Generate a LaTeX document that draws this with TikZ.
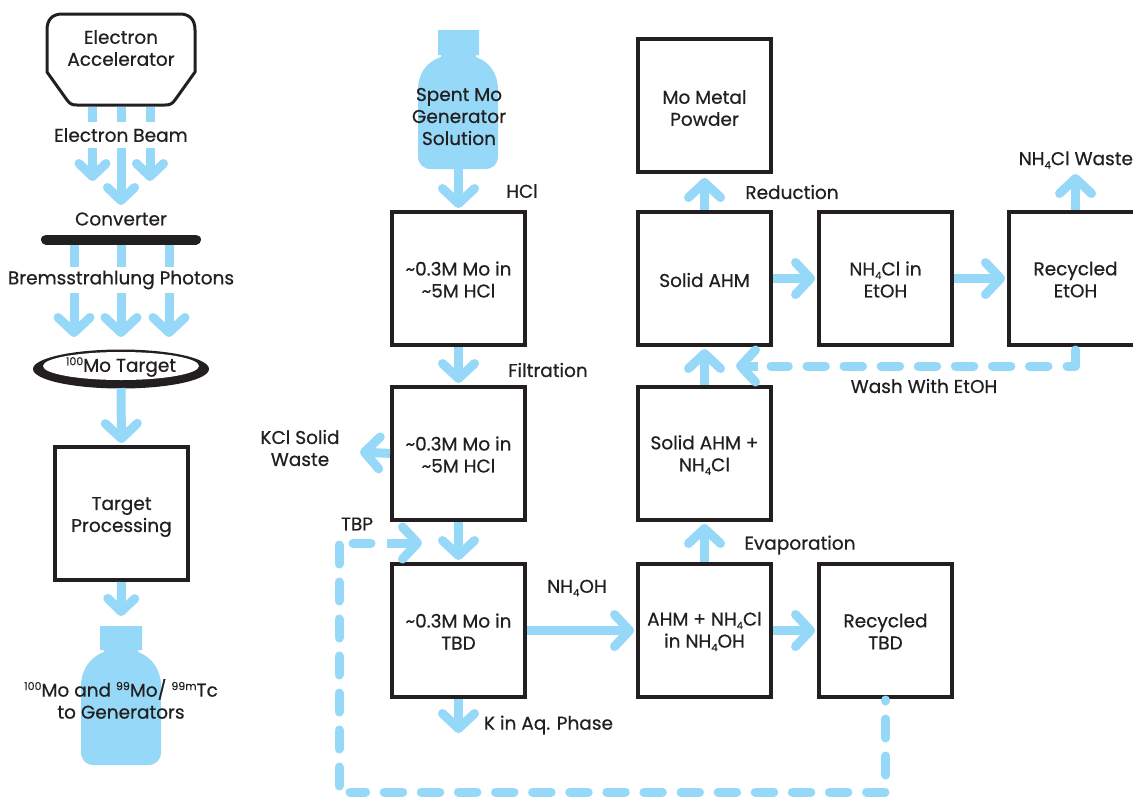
\documentclass[tikz,border=0pt]{standalone}
\usepackage{fontspec}
\setmainfont{Poppins}[RawFeature={embolden=0.6}]
\usetikzlibrary{arrows.meta}
\definecolor{flowblue}{HTML}{96D8F8}
\definecolor{ink}{HTML}{231F20}
\newcommand{\lowr}[1]{\raisebox{-3.5pt}{\fontsize{10}{10}\selectfont #1}}
\newcommand{\upr}[1]{\raisebox{.65ex}{\fontsize{11}{11}\selectfont #1}}
\tikzset{
  x=1pt,y=-1pt,
  every node/.style={font=\fontsize{18.5}{22}\selectfont,text=ink,align=center,inner sep=0pt,outer sep=0pt},
  procbox/.style={draw=ink,line width=4pt,minimum width=133pt,minimum height=133pt,fill=white},
  boxtext/.style={yshift=-1pt},
  flowbase/.style={draw=flowblue,line width=9pt},
  flow/.style={flowbase,-{Straight Barb[round,length=15pt,width=32pt]},shorten <=2pt,shorten >=4pt},
  smallflow/.style={flowbase,-{Straight Barb[round,length=13pt,width=27pt]},shorten <=2pt,shorten >=4pt},
  stub/.style={flowbase},
  dashflow/.style={flowbase,line cap=round,dash pattern=on 18.5pt off 18.6pt},
  corner/.style={flowbase,line cap=round,line join=round},
  bottle/.style={fill=flowblue,draw=none},
}
\begin{document}
\begin{tikzpicture}
\clip (0,0) rectangle (1133,796);
% bottles
\fill[bottle] (100,626) -- (142,626) -- (142,650) -- (138,650) -- (138,652)
  .. controls (152,657) and (161,670) .. (161,686) -- (161,752)
  .. controls (161,760) and (156,765) .. (148,765) -- (94,765)
  .. controls (86,765) and (81,760) .. (81,752) -- (81,686)
  .. controls (81,670) and (90,657) .. (104,652) -- (104,650) -- (100,650) -- cycle;
\fill[bottle] (438,30) -- (479,30) -- (479,55) -- (476,55) -- (476,57)
  .. controls (490,62) and (498,74) .. (498,90) -- (498,156)
  .. controls (498,164) and (493,169) .. (485,169) -- (431,169)
  .. controls (423,169) and (418,164) .. (418,156) -- (418,90)
  .. controls (418,74) and (426,62) .. (441,57) -- (441,55) -- (438,55) -- cycle;
% accelerator
\draw[ink,line width=3pt,line join=round]
  (62,14) -- (180,14) .. controls (190,14) and (195,20) .. (195,30) -- (195,72)
  -- (175,100) .. controls (172,104) and (170,105) .. (165,105) -- (77,105)
  .. controls (72,105) and (70,104) .. (67,100) -- (47,72) -- (47,30)
  .. controls (47,20) and (52,14) .. (62,14) -- cycle;
\node (acc) at (121,48) {Electron\\Accelerator};
\coordinate (accL) at (92.5,105); \coordinate (accC) at (121,105); \coordinate (accR) at (150,105);
\node (beam) at (121,135) {Electron Beam};
\coordinate (bL1) at (92.5,122); \coordinate (bC1) at (121,122); \coordinate (bR1) at (150,122);
\coordinate (bL2) at (92.5,148); \coordinate (bC2) at (121,148); \coordinate (bR2) at (150,148);
\coordinate (bL3) at (92.5,181); \coordinate (bC3) at (121,205); \coordinate (bR3) at (150,181);
\draw[stub] (accL) ++(0,2) -- (bL1);
\draw[stub] (accC) ++(0,2) -- (bC1);
\draw[stub] (accR) ++(0,2) -- (bR1);
\draw[smallflow,shorten <=0pt,shorten >=0pt] (bL2) -- (bL3);
\draw[smallflow,shorten <=0pt,shorten >=0pt] (bC2) -- (bC3);
\draw[smallflow,shorten <=0pt,shorten >=0pt] (bR2) -- (bR3);
\node (conv) at (121,219) {Converter};
\coordinate (barL) at (46,239.5); \coordinate (barR) at (196,239.5);
\coordinate (pL0) at (74,244); \coordinate (pC0) at (121,244); \coordinate (pR0) at (169,244);
\coordinate (pL1) at (74,267); \coordinate (pC1) at (121,267); \coordinate (pR1) at (169,267);
\coordinate (pL2) at (74,293); \coordinate (pC2) at (121,293); \coordinate (pR2) at (169,293);
\coordinate (pL3) at (74,337); \coordinate (pC3) at (121,337); \coordinate (pR3) at (169,337);
\draw[stub] (pL0) -- (pL1);
\draw[stub] (pC0) -- (pC1);
\draw[stub] (pR0) -- (pR1);
\draw[ink,line width=10pt,line cap=round] (barL) -- (barR);
\node (brem) at (121,280) {Bremsstrahlung Photons};
\draw[flow,shorten <=0pt,shorten >=0pt] (pL2) -- (pL3);
\draw[flow,shorten <=0pt,shorten >=0pt] (pC2) -- (pC3);
\draw[flow,shorten <=0pt,shorten >=0pt] (pR2) -- (pR3);
% target
\fill[ink] (121,369) ellipse [x radius=88,y radius=19.5];
\fill[white] (121,366) ellipse [x radius=78,y radius=14];
\node (target) at (121,367) {\upr{100}Mo Target};
\coordinate (targetB) at (121,388);
% boxes
\node[procbox,label={[yshift=-3.5pt]center:{Target\\Processing}}] (proc) at (121.5,513.5) {};
\node (gen) at (121,699) {\upr{100}Mo and \upr{99}Mo/ \upr{99m}Tc\\to Generators};
\coordinate (genT) at (121,620);
\draw[flow,shorten <=0pt] (targetB) -- (proc.north);
\draw[smallflow] (proc.south) -- (genT);

\node (spent) at (459,116.5) {Spent Mo\\Generator\\Solution};
\coordinate (spentB) at (458.5,169);
\node[procbox,label={[boxtext]center:{\textasciitilde 0.3M Mo in\\\textasciitilde 5M HCl}}] (a1) at (458.5,278.5) {};
\node[procbox,label={[boxtext]center:{\textasciitilde 0.3M Mo in\\\textasciitilde 5M HCl}}] (a2) at (458.5,453.5) {};
\node[procbox,label={[boxtext]center:{\textasciitilde 0.3M Mo in\\TBD}}] (a3) at (458.5,630.5) {};
\node[procbox,label={[yshift=-2.5pt]center:{Mo Metal\\Powder}}] (m1) at (704.5,105.5) {};
\node[procbox,label={[yshift=-1.5pt]center:{Solid AHM}}] (m2) at (704.5,278.5) {};
\node[procbox,label={[yshift=-1.5pt]center:{Solid AHM +\\NH\lowr{4}Cl}}] (m3) at (704.5,453.5) {};
\node[procbox,label={[boxtext]center:{AHM + NH\lowr{4}Cl\\in NH\lowr{4}OH}}] (m4) at (704.5,630.5) {};
\node[procbox,label={[boxtext]center:{NH\lowr{4}Cl in\\EtOH}}] (r1) at (885.5,278.5) {};
\node[procbox,label={[boxtext]center:{Recycled\\TBD}}] (r2) at (885.5,630.5) {};
\node[procbox,label={[boxtext]center:{Recycled\\EtOH}}] (e1) at (1075.5,278.5) {};

\node (hcl) at (522,191) {HCl};
\node (filt) at (548,370) {Filtration};
\node (kcl) at (300,448) {KCl Solid\\Waste};
\node (tbp) at (357,524) {TBP};
\node (nh4oh) at (577,588) {NH\lowr{4}OH};
\node[anchor=west] (kaq) at (484,725) {K in Aq. Phase};
\node (evap) at (800,545) {Evaporation};
\node (wash) at (924,386) {Wash With EtOH};
\node (red) at (792,192) {Reduction};
\node[anchor=east] (waste) at (1133,160) {NH\lowr{4}Cl Waste};

\coordinate (kclE) at (360,452);
\coordinate (kaqE) at (458.5,733);
\coordinate (wasteE) at (1075.5,174);

\draw[flow,shorten <=0pt] (spentB) -- (a1.north);
\draw[flow] (a1.south) -- (a2.north);
\draw[flow] (a2.south) -- (a3.north);
\draw[flow,shorten >=0pt] (a2.west) -- (kclE);
\draw[flow,shorten >=0pt] (a3.south) -- (kaqE);
\draw[flow] (a3.east) -- (m4.west);
\draw[flow] (m4.east) -- (r2.west);
\draw[flow] (m4.north) -- (m3.south);
\draw[flow] (m3.north) -- (m2.south);
\draw[flow,shorten >=6pt] (m2.north) -- (m1.south);
\draw[flow] (m2.east) -- (r1.west);
\draw[flow] (r1.east) -- (e1.west);
\draw[flow,shorten >=0pt] (e1.north) -- (wasteE);

% dashed return: wash with EtOH
\coordinate (w0) at (1075.5,350);
\coordinate (w1) at (1075.5,366);
\coordinate (w2) at (1067,366);
\coordinate (w3) at (1048,366);
\coordinate (w4) at (771,366);
\coordinate (w5) at (758,366);
\coordinate (w6) at (736,366);
\draw[corner] (w0) -- (w1) -- (w2);
\draw[dashflow] (w3) -- (w4);
\draw[flowbase,-{Straight Barb[round,length=15pt,width=32pt]}] (w5) -- (w6);
% dashed return: TBD to TBP
\coordinate (t0) at (885.7,700);
\coordinate (t1) at (885.7,775);
\coordinate (t2) at (885,792);
\coordinate (t3) at (350,792);
\coordinate (t4) at (339,786);
\coordinate (t5) at (339,545);
\coordinate (t6) at (353,543);
\coordinate (t7) at (371,543);
\coordinate (t8) at (387,543);
\coordinate (t9) at (422,543);
\draw[flowbase,line cap=round,dash pattern=on 19pt off 18pt,dash phase=18pt] (t0) -- (t1);
\draw[dashflow] (t2) -- (t3);
\draw[flowbase,line cap=round,dash pattern=on 19pt off 18pt] (t5) -- (t4);
\draw[flowbase,line cap=round] (t6) -- (t7);
\draw[flowbase,-{Straight Barb[round,length=15pt,width=32pt]}] (t8) -- (t9);
\end{tikzpicture}
\end{document}
